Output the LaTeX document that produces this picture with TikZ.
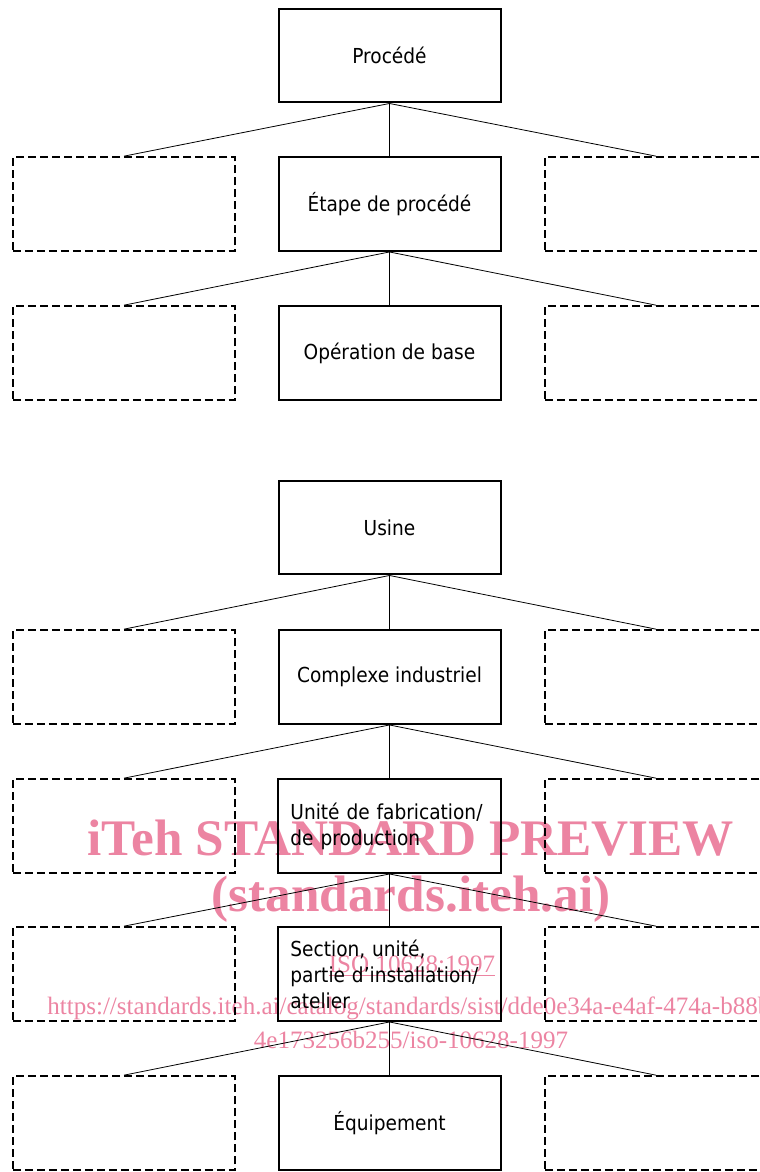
\documentclass[tikz,border=0pt]{standalone}
\usepackage{fontspec}
\setmainfont{DejaVu Sans Condensed}
\newfontfamily\wmfont{Liberation Serif}
\usepackage{tikz}
\usetikzlibrary{calc}
\definecolor{wmpink}{RGB}{236,132,162}

\begin{document}
\begin{tikzpicture}[x=0.0264cm, y=-0.0264cm,
    box/.style={draw, line width=1.5pt, rectangle, minimum width=5.86cm, minimum height=2.48cm, font=\fontsize{15.5}{19.5}\selectfont},
    boxl/.style={box, align=left, text width=5.23cm, inner sep=0.32cm},
    opt/.style={draw, line width=1.3pt, dash pattern=on 6pt off 3pt, rectangle, minimum width=5.86cm, minimum height=2.48cm},
    link/.style={line width=0.6pt}]
      \useasboundingbox (0,0) rectangle (760,1172);
      % Watermark
      \begin{scope}[wmpink]
      \node (wm1) at (411,838) {\wmfont\bfseries\fontsize{38.5}{38.5}\selectfont iTeh STANDARD PREVIEW};
      \node (wm2) at (411,899) {\wmfont\bfseries\fontsize{38.5}{38.5}\selectfont (standards.iteh.ai)};
      \node (wm3) at (412,966) {\wmfont\fontsize{18.8}{18.8}\selectfont\underline{ISO 10628:1997}};
      \node (wm4) at (413,1008) {\wmfont\fontsize{18.8}{18.8}\selectfont https://standards.iteh.ai/catalog/standards/sist/dde0e34a-e4af-474a-b88b-};
      \node (wm5) at (411,1040) {\wmfont\fontsize{18.8}{18.8}\selectfont 4e173256b255/iso-10628-1997};
      \end{scope}
      % Process
      \node[box] (proc) at (389.5,55.5) {Procédé};
      \node[box] (etape) at (389.5,204) {Étape de procédé};
      \node[box] (oper) at (389.5,353) {Opération de base};
      \node[opt] (etapeL) at (124,204) {};
      \node[opt] (etapeR) at (656,204) {};
      \node[opt] (operL) at (124,353) {};
      \node[opt] (operR) at (656,353) {};
      \draw[link] (proc.south) -- (etape.north);
      \draw[link] (proc.south) -- (etapeL.north);
      \draw[link] (proc.south) -- (etapeR.north);
      \draw[link] (etape.south) -- (oper.north);
      \draw[link] (etape.south) -- (operL.north);
      \draw[link] (etape.south) -- (operR.north);
      % Plant
      \node[box] (usine) at (389.5,527.5) {Usine};
      \node[box] (cplx) at (389.5,677) {Complexe industriel};
      \node[boxl] (unite) at (389.5,826) {Unité de fabrication/\\de production};
      \node[boxl] (sect) at (389.5,974) {Section, unité,\\partie d’installation/\\atelier};
      \node[box] (equip) at (389.5,1123) {Équipement};
      \foreach \n/\y in {cplxL/677,uniteL/826,sectL/974,equipL/1123}
        \node[opt] (\n) at (124,\y) {};
      \foreach \n/\y in {cplxR/677,uniteR/826,sectR/974,equipR/1123}
        \node[opt] (\n) at (656,\y) {};
      \foreach \a/\b in {usine/cplx,cplx/unite,unite/sect,sect/equip} {
        \draw[link] (\a.south) -- (\b.north);
        \draw[link] (\a.south) -- (\b L.north);
        \draw[link] (\a.south) -- (\b R.north);
      }
    \end{tikzpicture}
\end{document}
